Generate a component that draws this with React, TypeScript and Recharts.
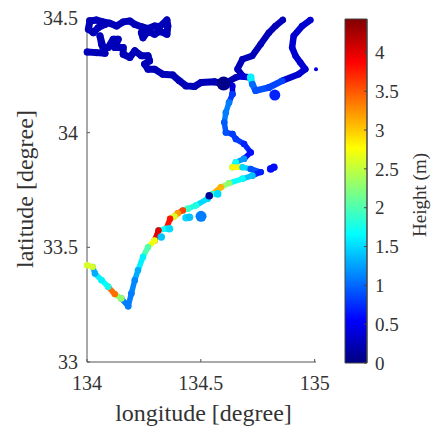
import React from "react";
import { ScatterChart, Scatter, XAxis, YAxis, BarChart, Bar } from "recharts";

type P = [number, number];
type H = [number, number, number];

const lonTicks = [134, 134.5, 135];
const latTicks = [33, 33.5, 34, 34.5];
const heightTicks = [0, 0.5, 1, 1.5, 2, 2.5, 3, 3.5, 4];
const heightMax = 4.43;

const northA: P[] = [[134.013,34.487],[134.042,34.491],[134.071,34.483],[134.1,34.477],[134.13,34.465],[134.159,34.483],[134.188,34.487],[134.21,34.472],[134.239,34.462],[134.268,34.454],[134.297,34.465],[134.319,34.462],[134.351,34.491],[134.355,34.465],[134.351,34.429],[134.319,34.443],[134.297,34.429],[134.268,34.443],[134.246,34.414],[134.239,34.436]];
const northLoop: P[] = [[134.013,34.487],[134.006,34.451],[134.028,34.436],[134.049,34.458],[134.079,34.472]];
const northB: P[] = [[134.001,34.352],[134.042,34.349],[134.079,34.346],[134.064,34.386],[134.057,34.422],[134.071,34.371],[134.093,34.371],[134.115,34.407],[134.137,34.407],[134.122,34.371],[134.159,34.371],[134.159,34.342],[134.188,34.328],[134.21,34.357],[134.239,34.335],[134.268,34.335],[134.275,34.313],[134.253,34.299],[134.268,34.277],[134.297,34.277],[134.333,34.255],[134.377,34.251],[134.406,34.226],[134.435,34.204],[134.472,34.201],[134.501,34.219],[134.559,34.222],[134.603,34.212]];
const branchNorth: P[] = [[134.603,34.212],[134.654,34.241],[134.683,34.248],[134.661,34.277],[134.683,34.32],[134.726,34.335],[134.763,34.386],[134.799,34.436],[134.828,34.465],[134.86,34.491]];
const branchEast: P[] = [[134.857,34.226],[134.93,34.255],[134.959,34.277],[134.937,34.306],[134.916,34.335],[134.901,34.371],[134.908,34.422],[134.945,34.465],[134.981,34.491]];

const coloured: H[] = [
  [134.639,34.204,0.4],[134.639,34.168,0.8],[134.624,34.132,1.1],[134.61,34.088,1.1],[134.603,34.045,0.95],[134.61,34.001,0.9],[134.639,33.994,0.8],[134.654,33.972,0.8],[134.69,33.951,0.7],[134.719,33.914,0.6],[134.69,33.886,1.2],[134.654,33.871,1.7],[134.639,33.849,2.8],[134.683,33.849,1.5],[134.719,33.842,0.9],[134.763,33.828,0.7],[134.727,33.813,1.4],[134.683,33.799,1.7],[134.624,33.78,2.3],[134.588,33.762,3.1],[134.552,33.733,1.9],[134.53,33.712,1.5],[134.479,33.683,1.8],[134.443,33.668,1.9],[134.421,33.661,3.6],[134.399,33.649,3.2],[134.384,33.635,2.6],[134.365,33.625,3.8],[134.348,33.581,1.7],[134.314,33.574,4.0],[134.297,33.53,2.7],[134.268,33.501,2.0],[134.246,33.458,1.6],[134.224,33.4,1.3],[134.21,33.357,1.15],[134.195,33.299,1.1],[134.181,33.243,1.1],[134.151,33.277,2.3],[134.122,33.296,3.4],[134.093,33.328,1.7],[134.064,33.357,1.6],[134.035,33.386,1.3],[134.025,33.415,2.6],[134,33.422,2.7],
];
const eastLink: H[] = [[134.683,34.245,0.4],[134.719,34.241,1.5],[134.726,34.212,1.0],[134.741,34.183,0.9],[134.799,34.197,0.85],[134.857,34.226,0.6]];
const spots: H[] = [[134.435,33.629,1.5],[134.45,33.631,1.4],[134.362,33.581,1.5],[134.326,33.545,1.4],[134.574,33.733,1.5],[134.537,33.725,0.1],[134.807,33.842,0.6],[134.821,33.849,0.6],[134.719,34.241,1.6]];
const bigSpots: H[] = [[134.825,34.164,0.7],[134.501,33.635,1.1]];
const darkSpots: H[] = [[134.6,34.214,0.05]];
const smallSpots: H[] = [[135.006,34.277,0.4]];

const clamp = (v: number) => Math.max(0, Math.min(1, v));
const jet = (h: number) => {
  const t = clamp(h / heightMax);
  const ch = (c: number) => Math.round(255 * clamp(1.5 - Math.abs(4 * t - c)));
  return `rgb(${ch(3)},${ch(2)},${ch(1)})`;
};
const toPoint = (p: number[]) => ({ lon: p[0], lat: p[1] });
const dot = (r: number, fill: string) => (props: any) => <circle cx={props.cx} cy={props.cy} r={r} fill={fill} />;
const serif = "'Liberation Serif', serif";
const tickStyle = { fontFamily: serif, fontSize: 20, fill: "#333" };
const barTickStyle = { fontFamily: serif, fontSize: 19, fill: "#333" };
const labelStyle = { fontFamily: serif, fontSize: 24, fill: "#333" };
const navy = jet(0.25);
const stops = Array.from({ length: 17 }, (_, i) => i / 16);

const track = (key: string, pts: number[][], color: string, width: number, r: number) => (
  <Scatter
    key={key}
    data={pts.map(toPoint)}
    isAnimationActive={false}
    line={{ stroke: color, strokeWidth: width, strokeLinecap: "round", strokeLinejoin: "round" }}
    lineType="joint"
    shape={dot(r, color)}
  />
);

export default function App() {
  return (
    <div style={{ position: "fixed", left: 0, top: 0, width: 433, height: 427, background: "#fff" }}>
      <div style={{ position: "absolute", left: 0, top: 0 }}>
        <ScatterChart width={433} height={427} margin={{ left: 0, top: 18, right: 117, bottom: 0 }}>
          <XAxis
            type="number" dataKey="lon" domain={[134, 135]} ticks={lonTicks} interval={0}
            height={65} stroke="#555" tick={tickStyle} tickSize={-3} tickMargin={17}
            label={{ value: "longitude [degree]", position: "insideBottom", offset: 6, dx: 2, style: labelStyle }}
          />
          <YAxis
            type="number" dataKey="lat" domain={[33, 34.5]} ticks={latTicks} interval={0}
            width={87} stroke="#555" tick={tickStyle} tickSize={-3} tickMargin={12}
            label={{ value: "latitude [degree]", angle: -90, position: "insideLeft", offset: 24, dy: 78, style: labelStyle }}
          />
          {track("a", northA, navy, 7, 3.5)}
          {track("loop", northLoop, navy, 7, 3.5)}
          {track("b", northB, navy, 7, 3.5)}
          {track("n", branchNorth, navy, 6.5, 3.2)}
          {track("e", branchEast, jet(0.35), 6.5, 3.2)}
          {eastLink.slice(0, -1).map((p, i) => track(`l${i}`, [p, eastLink[i + 1]], jet(p[2]), 6.5, 3.2))}
          {coloured.slice(0, -1).map((p, i) => track(`c${i}`, [p, coloured[i + 1]], jet(p[2]), 5.5, 3.2))}
          {spots.map((p, i) => track(`s${i}`, [p], jet(p[2]), 0, 3.8))}
          {bigSpots.map((p, i) => track(`b${i}`, [p], jet(p[2]), 0, 5.5))}
          {darkSpots.map((p, i) => track(`d${i}`, [p], jet(p[2]), 0, 7))}
          {smallSpots.map((p, i) => track(`m${i}`, [p], jet(p[2]), 0, 2))}
        </ScatterChart>
      </div>
      <div style={{ position: "absolute", left: 0, top: 0 }}>
        <BarChart
          width={433} height={427} data={[{ name: "h", v: heightMax }]}
          margin={{ left: 345, top: 19, right: 0, bottom: 64 }} barCategoryGap={0}
        >
          <defs>
            <linearGradient id="jetFill" x1="0" y1="1" x2="0" y2="0">
              {stops.map((s) => (
                <stop key={s} offset={s} stopColor={jet(s * heightMax)} />
              ))}
            </linearGradient>
          </defs>
          <XAxis dataKey="name" hide />
          <YAxis
            orientation="right" type="number" domain={[0, heightMax]} ticks={heightTicks} interval={0}
            width={66} stroke="#444" tick={barTickStyle} tickSize={-3} tickMargin={11}
            label={{ value: "Height (m)", angle: -90, position: "insideRight", offset: 14, dy: -38, style: { fontFamily: serif, fontSize: 19, fill: "#333" } }}
          />
          <Bar dataKey="v" fill="url(#jetFill)" stroke="#444" isAnimationActive={false} />
        </BarChart>
      </div>
    </div>
  );
}
